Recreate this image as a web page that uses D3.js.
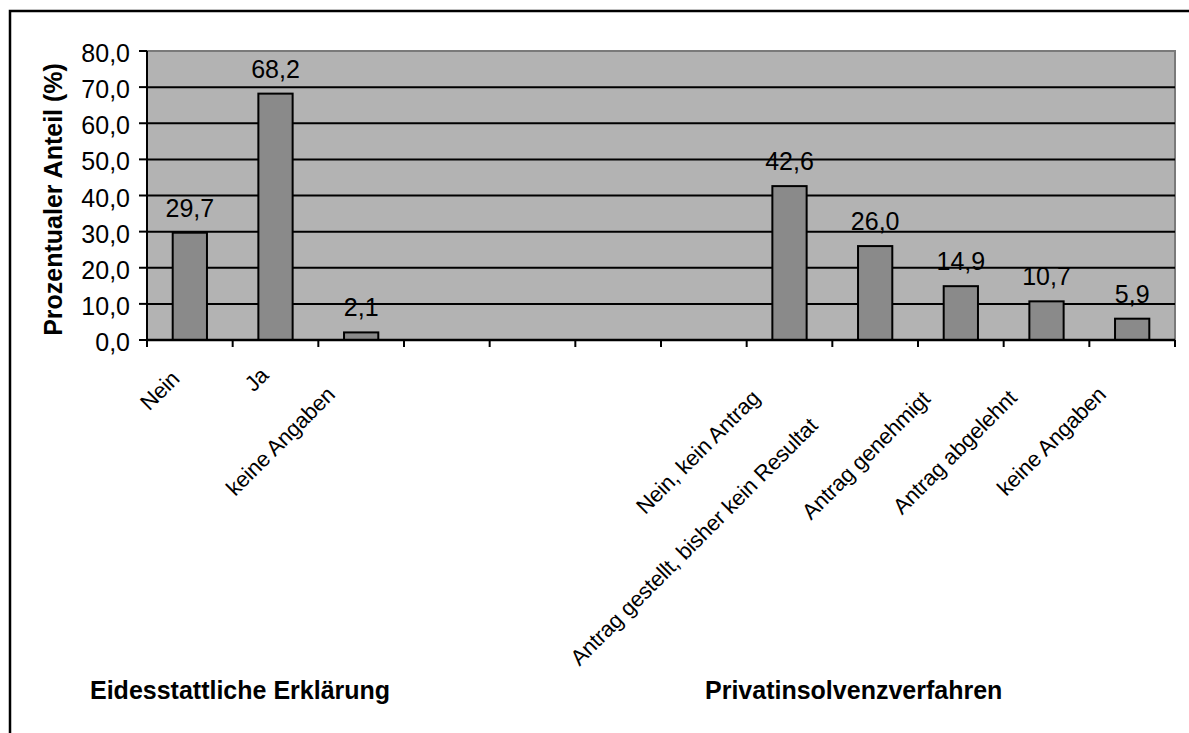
<!DOCTYPE html>
<html>
<head>
<meta charset="utf-8">
<script src="https://cdn.jsdelivr.net/npm/d3@7.9.0/dist/d3.min.js"></script>
<style>
  body { margin: 0; background: #fff; }
  text { font-family: Arial, "Liberation Sans", sans-serif; fill: #000; }
</style>
</head>
<body>
<svg id="chart" width="1189" height="733"></svg>
<script>
// categories (empty slots separate the two groups)
const categories = ['Nein', 'Ja', 'keine Angaben', '', '', '', '',
  'Nein, kein Antrag', 'Antrag gestellt, bisher kein Resultat',
  'Antrag genehmigt', 'Antrag abgelehnt', 'keine Angaben'];
const values = [29.7, 68.2, 2.1, null, null, null, null, 42.6, 26.0, 14.9, 10.7, 5.9];
const groupNames = ['Eidesstattliche Erklärung', 'Privatinsolvenzverfahren'];
const yTicks = [0, 10, 20, 30, 40, 50, 60, 70, 80];
const yTitle = 'Prozentualer Anteil (%)';

const svg = d3.select('#chart');
const margin = { left: 147, right: 14, top: 51, bottom: 393 };
const W = 1189, H = 733;
const plotW = W - margin.left - margin.right;
const plotH = H - margin.top - margin.bottom;

// group titles sit under the category labels, left-aligned
const groupTitleX = [90, 705];
const groupTitleY = 699;

const de = d3.formatLocale({ decimal: ',', thousands: '.', grouping: [3], currency: ['', '€'] });
const fmt = de.format('.1f');

const x = d3.scaleBand()
  .domain(d3.range(categories.length))
  .range([margin.left, margin.left + plotW])
  .paddingInner(0).paddingOuter(0);
const y = d3.scaleLinear().domain([0, 80]).range([margin.top + plotH, margin.top]);

// outer frame
svg.append('path')
  .attr('d', `M10,${H} L10,11 L${W},11`)
  .attr('fill', 'none').attr('stroke', '#000').attr('stroke-width', 2.5);

// plot area
svg.append('rect')
  .attr('x', margin.left).attr('y', margin.top)
  .attr('width', plotW).attr('height', plotH)
  .attr('fill', '#b3b3b3');
svg.append('path')
  .attr('d', `M${margin.left},${margin.top} L${margin.left + plotW},${margin.top} L${margin.left + plotW},${margin.top + plotH}`)
  .attr('fill', 'none').attr('stroke', '#7a7a7a').attr('stroke-width', 2);

// gridlines
svg.append('g').selectAll('line')
  .data(yTicks.filter(d => d > 0 && d < 80))
  .join('line')
  .attr('x1', margin.left).attr('x2', margin.left + plotW)
  .attr('y1', d => y(d)).attr('y2', d => y(d))
  .attr('stroke', '#000').attr('stroke-width', 2);

// bars
const bw = x.bandwidth() * 0.4;
const barData = values.map((v, i) => ({ i, v })).filter(d => d.v !== null);
svg.append('g').selectAll('rect')
  .data(barData)
  .join('rect')
  .attr('x', d => x(d.i) + (x.bandwidth() - bw) / 2)
  .attr('y', d => y(d.v))
  .attr('width', bw)
  .attr('height', d => y(0) - y(d.v))
  .attr('fill', '#8a8a8a')
  .attr('stroke', '#000').attr('stroke-width', 2);

// value labels
svg.append('g').selectAll('text')
  .data(barData)
  .join('text')
  .attr('x', d => x(d.i) + x.bandwidth() / 2)
  .attr('y', d => y(d.v) - 16)
  .attr('text-anchor', 'middle')
  .attr('font-size', 25)
  .text(d => fmt(d.v));

// y axis
const yAxis = svg.append('g');
yAxis.append('line')
  .attr('x1', margin.left).attr('x2', margin.left)
  .attr('y1', margin.top).attr('y2', y(0))
  .attr('stroke', '#000').attr('stroke-width', 2);
yAxis.selectAll('line.tick')
  .data(yTicks)
  .join('line').attr('class', 'tick')
  .attr('x1', margin.left - 8).attr('x2', margin.left)
  .attr('y1', d => y(d)).attr('y2', d => y(d))
  .attr('stroke', '#000').attr('stroke-width', 2);
yAxis.selectAll('text')
  .data(yTicks)
  .join('text')
  .attr('x', 130)
  .attr('y', d => y(d) + 11)
  .attr('text-anchor', 'end')
  .attr('font-size', 25)
  .text(d => fmt(d));

// x axis
const xAxis = svg.append('g');
xAxis.append('line')
  .attr('x1', margin.left).attr('x2', margin.left + plotW)
  .attr('y1', y(0)).attr('y2', y(0))
  .attr('stroke', '#000').attr('stroke-width', 2.5);
xAxis.selectAll('line.tick')
  .data(d3.range(categories.length + 1))
  .join('line').attr('class', 'tick')
  .attr('x1', d => margin.left + d * x.step()).attr('x2', d => margin.left + d * x.step())
  .attr('y1', y(0)).attr('y2', y(0) + 7)
  .attr('stroke', '#000').attr('stroke-width', 2);

// rotated category labels (longer labels slide down-left, as in the original)
xAxis.selectAll('text')
  .data(categories.map((c, i) => ({ c, i })).filter(d => d.c !== ''))
  .join('text')
  .attr('text-anchor', 'end')
  .attr('font-size', 22)
  .attr('letter-spacing', -0.2)
  .text(d => d.c)
  .each(function (d) {
    const L = this.getComputedTextLength();
    const cx = x(d.i) + x.bandwidth() / 2;
    d3.select(this).attr('transform',
      `translate(${cx - 2 - 0.16 * L},${y(0) + 33 + 0.16 * L}) rotate(-45)`);
  });

// group titles
svg.append('g').selectAll('text')
  .data(groupNames)
  .join('text')
  .attr('x', (d, i) => groupTitleX[i])
  .attr('y', groupTitleY)
  .attr('font-size', 25)
  .attr('font-weight', 'bold')
  .text(d => d);

// y title
svg.append('text')
  .attr('transform', `translate(62,${(margin.top + y(0)) / 2 + 4}) rotate(-90)`)
  .attr('text-anchor', 'middle')
  .attr('font-size', 25)
  .attr('font-weight', 'bold')
  .text(yTitle);
</script>
</body>
</html>
